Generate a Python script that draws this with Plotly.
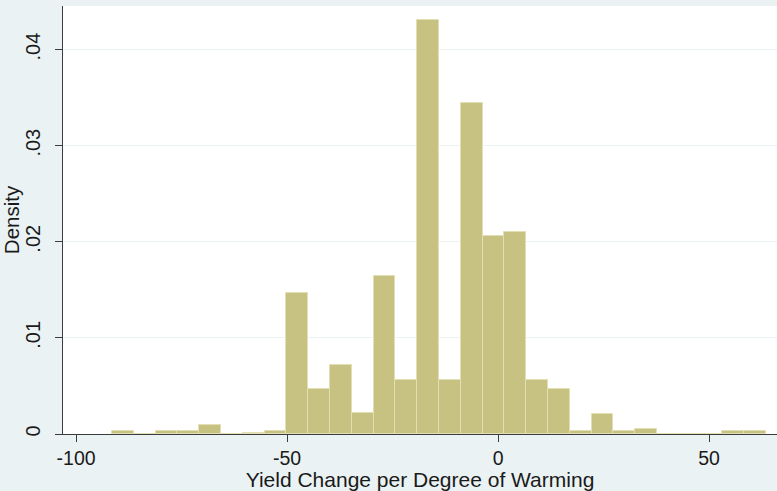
import plotly.graph_objects as go

# Histogram of yield change per degree of warming (density scale)
bin_left_edges = [-91.50, -86.33, -81.17, -76.00, -70.83, -65.67, -60.50, -55.33,
                  -50.17, -45.00, -39.83, -34.67, -29.50, -24.33, -19.17, -14.00,
                  -8.83, -3.67, 1.50, 6.67, 11.83, 17.00, 22.17, 27.33,
                  32.50, 37.67, 42.83, 48.00, 53.17, 58.33]
bin_width = 5.167
density = [0.00036, 0.0, 0.00036, 0.00036, 0.00094, 0.0, 0.00012, 0.00036,
           0.01469, 0.00470, 0.00713, 0.00217, 0.01644, 0.00563, 0.04310, 0.00560,
           0.03440, 0.02060, 0.02100, 0.00563, 0.00467, 0.00036, 0.00206, 0.00036,
           0.00054, 0.0, 0.0, 0.0, 0.00036, 0.00036]

x_ticks = [-100, -50, 0, 50]
x_tick_text = ["-100", "-50", "0", "50"]
y_ticks = [0, 0.01, 0.02, 0.03, 0.04]
y_tick_text = ["0", ".01", ".02", ".03", ".04"]

FONT = "Liberation Sans, Arial, sans-serif"
TXT = "#1a1a1a"
AXIS = "#3c3c3c"
BG = "#eaf2f3"

fig = go.Figure(
    go.Bar(
        x=bin_left_edges,
        y=density,
        width=[bin_width] * len(bin_left_edges),
        offset=0,
        marker=dict(color="#c8c282", line=dict(color="#e2dfb4", width=1)),
        showlegend=False,
    )
)

fig.update_layout(
    width=777,
    height=491,
    margin=dict(l=63, r=0, t=6, b=57),
    paper_bgcolor=BG,
    plot_bgcolor="white",
    font=dict(family=FONT, size=20, color=TXT),
    bargap=0,
)

fig.update_xaxes(
    range=[-103.1, 66.1],
    tickvals=x_ticks,
    ticktext=x_tick_text,
    ticks="outside",
    ticklen=7,
    tickcolor=AXIS,
    showline=True,
    linecolor=AXIS,
    linewidth=1,
    showgrid=False,
    zeroline=False,
    tickfont=dict(size=19.5, color=TXT),
    title=dict(text="Yield Change per Degree of Warming", font=dict(size=21, color=TXT), standoff=3),
    automargin=False,
)

fig.update_yaxes(
    range=[0, 0.04453],
    tickvals=y_ticks,
    ticktext=y_tick_text,
    tickangle=-90,
    ticks="outside",
    ticklen=7,
    tickcolor=AXIS,
    ticklabelstandoff=7,
    showline=True,
    linecolor=AXIS,
    linewidth=1,
    showgrid=True,
    gridcolor=BG,
    gridwidth=1,
    zeroline=False,
    tickfont=dict(size=20, color=TXT),
    title=dict(text="Density", font=dict(size=20.5, color=TXT), standoff=0),
    automargin=False,
)

fig.write_html("out.html")
